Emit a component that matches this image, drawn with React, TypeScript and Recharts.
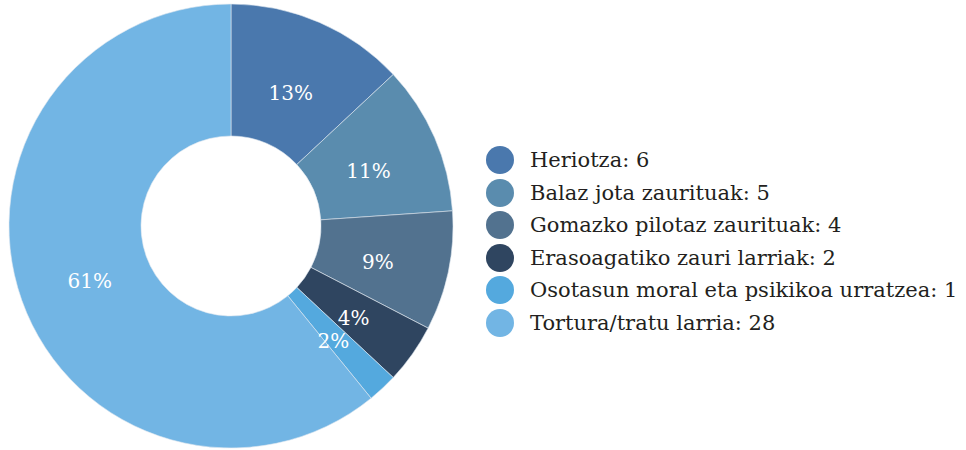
import React from 'react'
import { PieChart, Pie, Cell } from 'recharts'

const categories = [
  'Heriotza',
  'Balaz jota zaurituak',
  'Gomazko pilotaz zaurituak',
  'Erasoagatiko zauri larriak',
  'Osotasun moral eta psikikoa urratzea',
  'Tortura/tratu larria',
]
const counts = [6, 5, 4, 2, 1, 28]
const COLORS = ['#4a78ad', '#5a8cae', '#52728f', '#2f4560', '#54a9de', '#72b5e4']

const data = categories.map((name, i) => ({ name, value: counts[i] }))

const FONT = "'DejaVu Serif', serif"
const RAD = Math.PI / 180

const renderLabel = (props: any) => {
  const { cx, cy, midAngle, percent } = props
  const r = 150
  const x = cx + r * Math.cos(-midAngle * RAD)
  const y = cy + r * Math.sin(-midAngle * RAD) + 5
  return (
    <text
      x={x}
      y={y}
      fill="#fff"
      textAnchor="middle"
      dominantBaseline="central"
      style={{ fontFamily: FONT, fontSize: 20 }}
    >
      {Math.round(percent * 100)}%
    </text>
  )
}

export default function App() {
  return (
    <div style={{ position: 'absolute', left: 0, top: 0, width: 966, height: 450, background: '#fff' }}>
      <PieChart width={966} height={450} margin={{ top: 0, right: 0, bottom: 0, left: 0 }}>
        <Pie
          data={data}
          dataKey="value"
          nameKey="name"
          cx={231}
          cy={226}
          innerRadius={90}
          outerRadius={222}
          startAngle={90}
          endAngle={-270}
          stroke="#dfe8f0"
          strokeWidth={0.6}
          label={renderLabel}
          labelLine={false}
          isAnimationActive={false}
        >
          {data.map((entry, i) => (
            <Cell key={`cell-${i}`} fill={COLORS[i]} />
          ))}
        </Pie>
      </PieChart>
      <div style={{ position: 'absolute', left: 486, top: 144, width: 480, fontFamily: FONT }}>
        {categories.map((name, i) => (
          <div key={`leg-${i}`} style={{ display: 'flex', alignItems: 'center', height: 32.5 }}>
            <svg width={28} height={28} style={{ marginRight: 16, flexShrink: 0 }}>
              <circle cx={14} cy={14} r={14} fill={COLORS[i]} />
            </svg>
            <span style={{ fontSize: 21, color: '#231f20', lineHeight: '28px', whiteSpace: 'nowrap' }}>
              {name}: {counts[i]}
            </span>
          </div>
        ))}
      </div>
    </div>
  )
}
